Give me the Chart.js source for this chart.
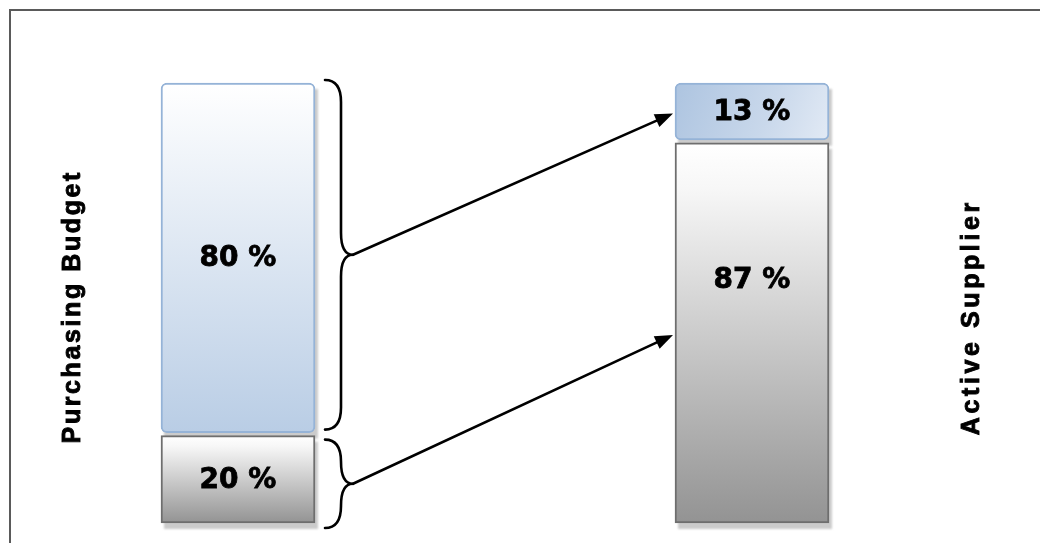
<!DOCTYPE html>
<html>
<head>
<meta charset="utf-8">
<script src="https://cdn.jsdelivr.net/npm/chart.js@4.4.1/dist/chart.umd.min.js"></script>
<style>
  html, body { margin: 0; padding: 0; background: #fff; overflow: hidden; }
  #wrap { position: relative; width: 1040px; height: 543px; }
</style>
</head>
<body>
<div id="wrap"><canvas id="c" width="1040" height="543"></canvas></div>
<script>
// Two stacked columns: share of the purchasing budget vs. share of active suppliers
const groups = ['Purchasing Budget', 'Active Supplier'];
const lowerShare = [20, 87];   // grey segment, %
const upperShare = [80, 13];   // blue segment, %

const BAR_W = 154;

// pixel extent of a segment straight from the scales (used for gradients)
function extent(chart, ds, i) {
  const ys = chart.scales.y, xs = chart.scales.x;
  const lo = ds === 0 ? 0 : lowerShare[i];
  const hi = lo + (ds === 0 ? lowerShare[i] : upperShare[i]);
  const cx = xs.getPixelForValue(i);
  return { left: cx - BAR_W / 2, right: cx + BAR_W / 2,
           top: ys.getPixelForValue(hi), bottom: ys.getPixelForValue(lo) };
}

function greyFill(ctx) {
  const chart = ctx.chart;
  if (!chart.chartArea || !chart.scales.y) return '#d0d0d0';
  const e = extent(chart, 0, ctx.dataIndex);
  const g = chart.ctx.createLinearGradient(0, e.top, 0, e.bottom);
  g.addColorStop(0, '#ffffff');
  g.addColorStop(0.12, '#f7f7f7');
  g.addColorStop(1, '#939393');
  return g;
}

function blueFill(ctx) {
  const chart = ctx.chart;
  if (!chart.chartArea || !chart.scales.y) return '#c6d6ea';
  const e = extent(chart, 1, ctx.dataIndex);
  let g;
  if (ctx.dataIndex === 0) {
    g = chart.ctx.createLinearGradient(0, e.top, 0, e.bottom);
    g.addColorStop(0, '#ffffff');
    g.addColorStop(1, '#b9cde5');
  } else {
    g = chart.ctx.createLinearGradient(e.left, e.top, e.right, e.bottom);
    g.addColorStop(0, '#adc4e0');
    g.addColorStop(0.6, '#c9d8eb');
    g.addColorStop(1, '#e2eaf5');
  }
  return g;
}

// box of a drawn bar element, including the small upward lift of the top segment
function box(chart, ds, i) {
  const el = chart.getDatasetMeta(ds).data[i];
  const p = el.getProps(['x', 'y', 'base', 'width'], true);
  const lift = chart.data.datasets[ds].lift || 0;
  return { left: p.x - p.width / 2, right: p.x + p.width / 2,
           top: Math.min(p.y, p.base) - lift, bottom: Math.max(p.y, p.base) - lift };
}

function brace(ctx, x0, xv, xt, top, bottom) {
  const mid = (top + bottom) / 2;
  const r = Math.min(22, (bottom - top) / 4);
  ctx.beginPath();
  ctx.moveTo(x0, top);
  ctx.quadraticCurveTo(xv, top, xv, top + r);
  ctx.lineTo(xv, mid - r);
  ctx.quadraticCurveTo(xv, mid, xt, mid);
  ctx.quadraticCurveTo(xv, mid, xv, mid + r);
  ctx.lineTo(xv, bottom - r);
  ctx.quadraticCurveTo(xv, bottom, x0, bottom);
  ctx.stroke();
}

function arrow(ctx, x1, y1, x2, y2) {
  const a = Math.atan2(y2 - y1, x2 - x1);
  const len = 18, half = 7;
  const bx = x2 - len * Math.cos(a), by = y2 - len * Math.sin(a);
  ctx.beginPath();
  ctx.moveTo(x1, y1);
  ctx.lineTo(bx + 2 * Math.cos(a), by + 2 * Math.sin(a));
  ctx.stroke();
  ctx.beginPath();
  ctx.moveTo(x2, y2);
  ctx.lineTo(bx + half * Math.sin(a), by - half * Math.cos(a));
  ctx.lineTo(bx - half * Math.sin(a), by + half * Math.cos(a));
  ctx.closePath();
  ctx.fill();
}

// text written letter by letter with extra tracking, centred on the origin
function spacedText(ctx, text, spacing) {
  const widths = [...text].map(ch => ctx.measureText(ch).width);
  const total = widths.reduce((s, w) => s + w, 0) + spacing * (text.length - 1);
  let x = -total / 2;
  [...text].forEach((ch, k) => {
    ctx.fillText(ch, x, 0);
    ctx.strokeText(ch, x, 0);
    x += widths[k] + spacing;
  });
}

const decor = {
  id: 'decor',
  beforeDraw(chart) {
    const ctx = chart.ctx;
    ctx.save();
    ctx.strokeStyle = '#5a5a5a';
    ctx.lineWidth = 2;
    ctx.beginPath();
    ctx.moveTo(10, 700);
    ctx.lineTo(10, 10);
    ctx.lineTo(1200, 10);
    ctx.stroke();
    ctx.restore();
  },
  beforeDatasetsDraw(chart) {
    // soft drop shadow under every segment
    const ctx = chart.ctx;
    ctx.save();
    ctx.fillStyle = '#cbcbcb';
    ctx.filter = 'blur(1px)';
    chart.data.datasets.forEach((d, ds) => {
      d.data.forEach((v, i) => {
        const b = box(chart, ds, i);
        ctx.fillRect(b.left + 3, b.top + 6, b.right - b.left, b.bottom - b.top);
      });
    });
    ctx.restore();
  },
  beforeDatasetDraw(chart, args) {
    const lift = chart.data.datasets[args.index].lift || 0;
    chart.ctx.save();
    chart.ctx.translate(0, -lift);
  },
  afterDatasetDraw(chart) {
    chart.ctx.restore();
  },
  afterDatasetsDraw(chart) {
    const ctx = chart.ctx;
    ctx.save();
    // value labels
    ctx.fillStyle = '#000';
    ctx.font = 'bold 28px "DejaVu Sans", Verdana, sans-serif';
    ctx.textAlign = 'center';
    ctx.textBaseline = 'middle';
    ctx.strokeStyle = '#000';
    ctx.lineWidth = 0.8;
    chart.data.datasets.forEach((d, ds) => {
      d.data.forEach((v, i) => {
        const b = box(chart, ds, i);
        const at = (d.labelAt && d.labelAt[i]) || 0.5;
        const tx = (b.left + b.right) / 2, ty = b.top + (b.bottom - b.top) * at + 1;
        ctx.fillText(v + ' %', tx, ty);
        ctx.strokeText(v + ' %', tx, ty);
      });
    });
    // braces on the first column and arrows to the matching segment of the second
    ctx.fillStyle = '#000';
    ctx.lineWidth = 2.6;
    ctx.lineJoin = 'round';
    ctx.lineCap = 'round';
    const lb = [box(chart, 1, 0), box(chart, 0, 0)];
    const rb = [box(chart, 1, 1), box(chart, 0, 1)];
    lb.forEach((b, k) => {
      const top = k === 0 ? b.top - 3 : b.top + 4;
      const bottom = k === 0 ? b.bottom - 3 : b.bottom + 5;
      const x0 = b.right + 10, xv = b.right + 26, xt = b.right + 38;
      brace(ctx, x0, xv, xt, top, bottom);
      const t = rb[k];
      arrow(ctx, xt, (top + bottom) / 2, t.left - 2, (t.top + t.bottom) / 2 + 2);
    });
    ctx.restore();
  },
  afterDraw(chart) {
    const ctx = chart.ctx;
    const area = chart.chartArea;
    const titles = [
      { text: groups[0], x: area.left - 158, y: 308, spacing: 2.6 },
      { text: groups[1], x: area.right + 227, y: 319, spacing: 3.6 }
    ];
    titles.forEach(t => {
      ctx.save();
      ctx.font = 'bold 25px "Liberation Sans", Arimo, Arial, sans-serif';
      ctx.fillStyle = '#000';
      ctx.strokeStyle = '#000';
      ctx.lineWidth = 0.9;
      ctx.textAlign = 'left';
      ctx.textBaseline = 'alphabetic';
      ctx.translate(t.x, t.y);
      ctx.rotate(-Math.PI / 2);
      spacedText(ctx, t.text, t.spacing);
      ctx.restore();
    });
  }
};

new Chart(document.getElementById('c'), {
  type: 'bar',
  data: {
    labels: groups,
    datasets: [
      {
        label: 'lower',
        data: lowerShare,
        backgroundColor: greyFill,
        borderColor: '#6e6e6e',
        borderWidth: 2,
        borderSkipped: false,
        barThickness: BAR_W,
        clip: false,
        labelAt: [0.5, 0.36]
      },
      {
        label: 'upper',
        data: upperShare,
        backgroundColor: blueFill,
        borderColor: '#95b3d7',
        borderWidth: 2,
        borderSkipped: false,
        borderRadius: { topLeft: 6, topRight: 6, bottomLeft: 6, bottomRight: 6 },
        barThickness: BAR_W,
        clip: false,
        lift: 3,
        labelAt: [0.5, 0.5]
      }
    ]
  },
  options: {
    responsive: false,
    devicePixelRatio: 1,
    animation: false,
    layout: { padding: { left: 238, right: 288, top: 86, bottom: 20 } },
    plugins: { legend: { display: false }, tooltip: { enabled: false } },
    scales: {
      x: { type: 'category', offset: false, display: false, stacked: true },
      y: { display: false, stacked: true, min: 0, max: 100 }
    }
  },
  plugins: [decor]
});
</script>
</body>
</html>
